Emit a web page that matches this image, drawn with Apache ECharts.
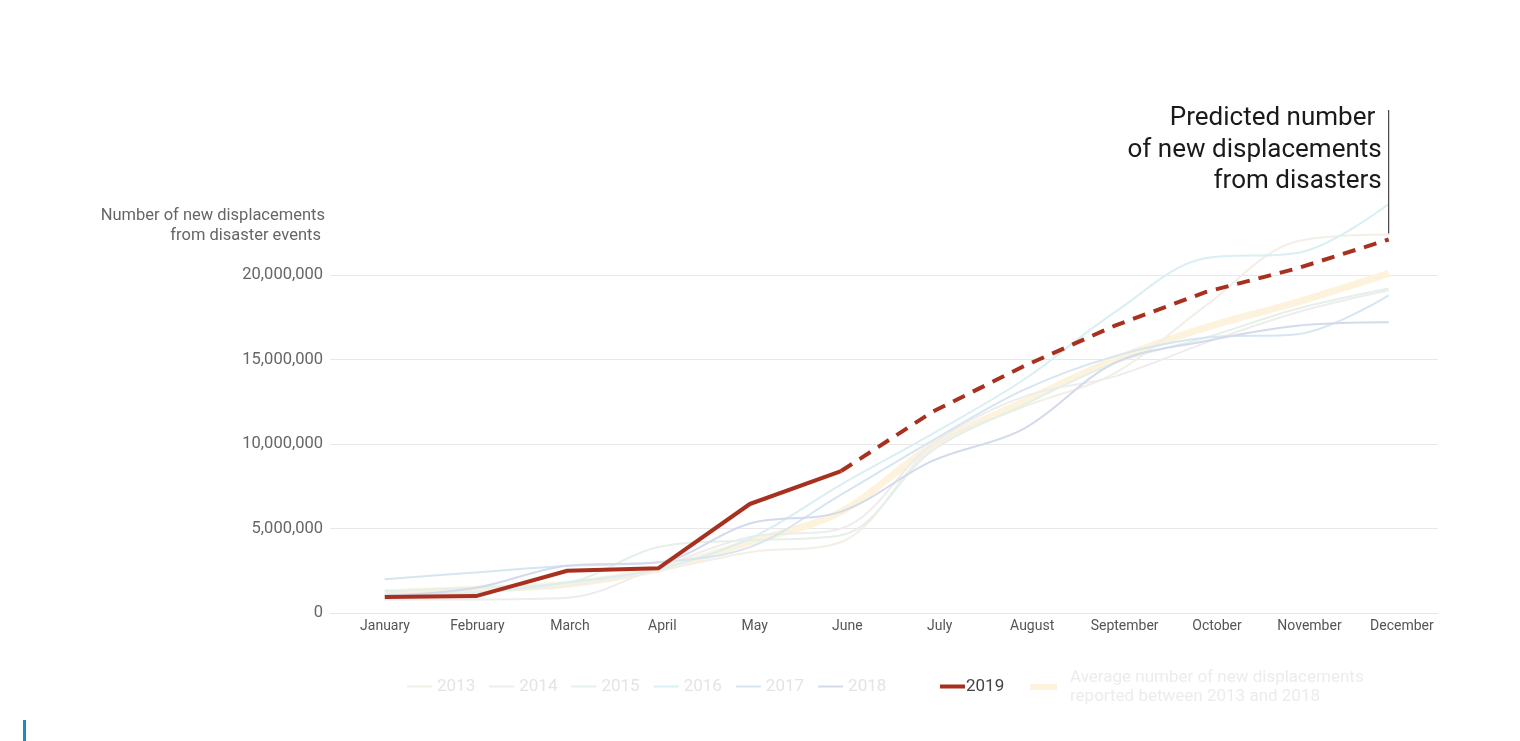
<!DOCTYPE html>
<html>
<head>
<meta charset="utf-8">
<script src="https://cdn.jsdelivr.net/npm/echarts@6/dist/echarts.min.js"></script>
<style>
html,body{margin:0;padding:0;background:#fff;}
#chart{width:1520px;height:741px;}
</style>
</head>
<body>
<div id="chart"></div>
<script>
const months = ['January','February','March','April','May','June','July','August','September','October','November','December'];
const yTicks = [0, 5000000, 10000000, 15000000, 20000000];

const y2013 = [1200000, 1300000, 1600000, 2500000, 3600000, 4200000, 9800000, 12200000, 14200000, 18200000, 22000000, 22400000];
const y2014 = [800000, 800000, 900000, 2700000, 4500000, 5000000, 10000000, 12800000, 14000000, 16000000, 17800000, 19100000];
const y2015 = [1300000, 1500000, 1800000, 3900000, 4300000, 4600000, 9600000, 12300000, 14800000, 16300000, 18000000, 19200000];
const y2016 = [1100000, 1200000, 1800000, 2600000, 4400000, 7600000, 10600000, 13800000, 17800000, 21000000, 21300000, 24200000];
const y2017 = [2000000, 2400000, 2800000, 3000000, 3900000, 7000000, 10200000, 13200000, 15200000, 16300000, 16500000, 18800000];
const y2018 = [1000000, 1500000, 2800000, 3000000, 5300000, 6000000, 9000000, 10900000, 14800000, 16100000, 17000000, 17200000];
const y2019 = [950000, 1000000, 2500000, 2650000, 6450000, 8400000, null, null, null, null, null, null];
const y2019pred = [null, null, null, null, null, 8400000, 11900000, 14600000, 17000000, 19000000, 20400000, 22100000];
const avg = [1200000, 1400000, 1700000, 2600000, 4200000, 6000000, 9900000, 12500000, 15000000, 16900000, 18400000, 20100000];

const years = ['2013','2014','2015','2016','2017','2018'];
const yearData = [y2013, y2014, y2015, y2016, y2017, y2018];
const yearColors = ['#f3efe7','#ededed','#e4f0e8','#d9eff3','#d6e6f1','#d3daec'];
const avgName = 'Average number of new displacements\nreported between 2013 and 2018';

const pairs = arr => arr.map((v, i) => [i, v]);

const chart = echarts.init(document.getElementById('chart'));
const FONT = 'Roboto';
const RED = '#a8301f';
const AVG = '#fdf3dc';

const series = [];
yearData.forEach((d, k) => {
  series.push({
    name: years[k], type: 'line', data: pairs(d), smooth: 0.35, symbol: 'none', clip: false,
    lineStyle: {color: yearColors[k], width: 2}, itemStyle: {color: yearColors[k]}, z: 2,
    emphasis: {disabled: true}
  });
});
series.push({
  name: avgName, type: 'line', data: pairs(avg), smooth: 0.35, symbol: 'none', clip: false,
  lineStyle: {color: AVG, width: 7}, itemStyle: {color: AVG}, z: 1, emphasis: {disabled: true}
});
series.push({
  name: '2019', type: 'line', data: pairs(y2019), symbol: 'none', clip: false,
  lineStyle: {color: RED, width: 4}, itemStyle: {color: RED}, z: 5, emphasis: {disabled: true}
});
series.push({
  name: '2019', type: 'line', data: pairs(y2019pred), symbol: 'none', clip: false,
  lineStyle: {color: RED, width: 4, type: [13, 9]}, itemStyle: {color: RED}, z: 5, emphasis: {disabled: true},
  markPoint: {
    symbol: 'circle', symbolSize: 11, silent: true,
    itemStyle: {color: '#fff', borderColor: '#222', borderWidth: 1.5},
    label: {show: false},
    data: [{coord: [11, y2019pred[11]]}]
  }
});

const faintText = {color: '#e4e4e4', fontSize: 17, fontFamily: FONT};

chart.setOption({
  animation: false,
  backgroundColor: '#fff',
  textStyle: {fontFamily: FONT},
  grid: {left: 330, right: 82, top: 275, bottom: 128, containLabel: false},
  legend: [
    {
      data: years, left: 402, top: 673, itemWidth: 25, itemHeight: 2, itemGap: 14,
      selectedMode: false, icon: 'rect', textStyle: faintText
    },
    {
      data: ['2019'], left: 935, top: 673, itemWidth: 25, itemHeight: 4, itemGap: 14,
      selectedMode: false, icon: 'rect', textStyle: {color: '#444', fontSize: 17, fontFamily: FONT, padding: [0, 0, 0, -4]}
    },
    {
      data: [avgName], left: 1025, top: 663, itemWidth: 27, itemHeight: 6, itemGap: 14,
      selectedMode: false, icon: 'rect', textStyle: {color: '#ececec', fontSize: 17, lineHeight: 19, fontFamily: FONT, padding: [0, 0, 0, 8]}
    }
  ],
  xAxis: [
    {
      type: 'value', min: -0.6, max: 11.54,
      splitLine: {show: false},
      axisLine: {show: true, lineStyle: {color: '#e6e6e6'}},
      axisTick: {show: false},
      axisLabel: {show: false}
    },
    {
      type: 'value', position: 'bottom', min: -0.595, max: 11.39,
      splitLine: {show: false}, axisLine: {show: false}, axisTick: {show: false},
      axisLabel: {
        customValues: months.map((m, i) => i),
        formatter: v => months[Math.round(v)] || '',
        color: '#555', fontSize: 14, margin: 6, fontFamily: FONT
      }
    }
  ],
  yAxis: {
    type: 'value', min: 0, max: 20000000, interval: 5000000,
    axisLine: {show: false}, axisTick: {show: false},
    splitLine: {lineStyle: {color: '#e8e8e8', width: 1}},
    axisLabel: {
      formatter: v => yTicks.includes(v) ? v.toLocaleString('en-US') : '',
      color: '#666', fontSize: 16.5, margin: 7, fontFamily: FONT
    }
  },
  series: series
});

const pt = chart.convertToPixel({xAxisIndex: 0, yAxisIndex: 0}, [11, y2019pred[11]]);
const gridRect = chart.getModel().getComponent('grid', 0).coordinateSystem.getRect();
chart.setOption({
  graphic: [
    {type: 'text', x: gridRect.x - 5, y: gridRect.y - 29, style: {
      text: 'Number of new displacements\nfrom disaster events ', align: 'right', verticalAlign: 'bottom',
      fill: '#666', fontSize: 16.5, lineHeight: 20, fontFamily: FONT
    }, silent: true},
    {type: 'line', shape: {x1: pt[0], y1: 110, x2: pt[0], y2: pt[1] - 6}, style: {stroke: '#222', lineWidth: 1}, silent: true, z: 10},
    {type: 'text', x: pt[0] - 7, y: 103, style: {
      text: 'Predicted number \nof new displacements\nfrom disasters', align: 'right', verticalAlign: 'top',
      fill: '#1a1a1a', fontSize: 26, lineHeight: 31.5, fontFamily: FONT
    }, silent: true},
    {type: 'rect', shape: {x: 23, y: 720, width: 3, height: 21}, style: {fill: '#1a8bc4'}, silent: true}
  ]
});
</script>
</body>
</html>
